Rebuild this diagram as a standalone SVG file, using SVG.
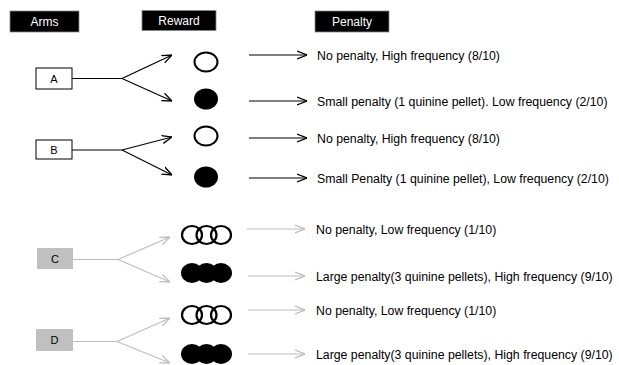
<svg xmlns="http://www.w3.org/2000/svg" width="619" height="365" viewBox="0 0 619 365">
<defs>
<marker id="ab" viewBox="0 0 10 10" refX="10" refY="5" markerWidth="10" markerHeight="10" markerUnits="userSpaceOnUse" orient="auto">
<path d="M0,1 L10,5 L0,9" fill="none" stroke="#000" stroke-width="1.3"/>
</marker>
<marker id="ag" viewBox="0 0 10 10" refX="10" refY="5" markerWidth="10" markerHeight="10" markerUnits="userSpaceOnUse" orient="auto">
<path d="M0,1 L10,5 L0,9" fill="none" stroke="#bdbdbd" stroke-width="1.3"/>
</marker>
</defs>
<style>
.hdr{fill:#000;stroke:#888;stroke-width:0.8}
.ht{font-family:"Liberation Sans",Arial,sans-serif;font-size:12px;fill:#fff;text-anchor:middle}
.box{fill:#fff;stroke:#000;stroke-width:1}
.gbox{fill:#c0c0c0;stroke:none}
.lt{font-family:"Liberation Sans",Arial,sans-serif;font-size:11px;fill:#000;text-anchor:middle}
.pt{font-family:"Liberation Sans",Arial,sans-serif;font-size:12.3px;fill:#000}
.bl{stroke:#000;stroke-width:1.2;fill:none}
.gl{stroke:#bdbdbd;stroke-width:1.2;fill:none}
.oc{fill:#fff;stroke:#000;stroke-width:2}
.or{fill:none;stroke:#000;stroke-width:2.2}
.fc{fill:#000;stroke:none}
</style>
<rect width="619" height="365" fill="#fff"/>
<g id="headers">
<rect class="hdr" x="10" y="11" width="69" height="21"/><text class="ht" x="44.5" y="26">Arms</text>
<rect class="hdr" x="142" y="10.5" width="74" height="20"/><text class="ht" x="179" y="25">Reward</text>
<rect class="hdr" x="315" y="11" width="74" height="21"/><text class="ht" x="352" y="26">Penalty</text>
</g>
<g id="arm-A"><rect class="box" x="36" y="68" width="36" height="21"/><text class="lt" x="54" y="82.5">A</text></g>
<g id="arm-B"><rect class="box" x="36" y="140" width="36" height="19"/><text class="lt" x="54" y="153.5">B</text></g>
<g id="arm-C"><rect class="gbox" x="37" y="248" width="36" height="21"/><text class="lt" x="55" y="262.5">C</text></g>
<g id="arm-D"><rect class="gbox" x="36" y="329" width="37" height="22"/><text class="lt" x="54.5" y="344">D</text></g>
<g id="reward-A1"><ellipse class="oc" cx="206" cy="62" rx="11.5" ry="9.5"/></g>
<g id="reward-A2"><ellipse class="fc" cx="206" cy="99" rx="12" ry="10.5"/></g>
<g id="reward-B1"><ellipse class="oc" cx="206" cy="136" rx="11.5" ry="9.5"/></g>
<g id="reward-B2"><ellipse class="fc" cx="206" cy="177" rx="12" ry="10.5"/></g>
<g id="reward-C1"><ellipse class="or" cx="192" cy="235" rx="10" ry="9"/><ellipse class="or" cx="206.5" cy="235" rx="10" ry="9"/><ellipse class="or" cx="221" cy="235" rx="10" ry="9"/></g>
<g id="reward-C2"><ellipse class="fc" cx="192" cy="273" rx="11" ry="10"/><ellipse class="fc" cx="206.5" cy="273" rx="11" ry="10"/><ellipse class="fc" cx="221" cy="273" rx="11" ry="10"/></g>
<g id="reward-D1"><ellipse class="or" cx="192" cy="315" rx="10" ry="9"/><ellipse class="or" cx="206.5" cy="315" rx="10" ry="9"/><ellipse class="or" cx="221" cy="315" rx="10" ry="9"/></g>
<g id="reward-D2"><ellipse class="fc" cx="192" cy="354" rx="11" ry="10"/><ellipse class="fc" cx="206.5" cy="354" rx="11" ry="10"/><ellipse class="fc" cx="221" cy="354" rx="11" ry="10"/></g>
<g id="penalties">
<text class="pt" x="317" y="59.5">No penalty, High frequency (8/10)</text>
<text class="pt" x="317" y="105.5">Small penalty (1 quinine pellet). Low frequency (2/10)</text>
<text class="pt" x="317" y="142.5">No penalty, High frequency (8/10)</text>
<text class="pt" x="317" y="182.5">Small Penalty (1 quinine pellet), Low frequency (2/10)</text>
<text class="pt" x="316" y="233.5">No penalty, Low frequency (1/10)</text>
<text class="pt" x="316" y="280.5">Large penalty(3 quinine pellets), High frequency (9/10)</text>
<text class="pt" x="316" y="314.5">No penalty, Low frequency (1/10)</text>
<text class="pt" x="316" y="358.5">Large penalty(3 quinine pellets), High frequency (9/10)</text>
</g>
<g id="connectors">
<path class="bl" d="M72,78.5 H122"/>
<path class="bl" d="M122,78.5 L172,55" marker-end="url(#ab)"/>
<path class="bl" d="M122,78.5 L172,101" marker-end="url(#ab)"/>
<path class="bl" d="M72,150 H122"/>
<path class="bl" d="M122,150 L172,137" marker-end="url(#ab)"/>
<path class="bl" d="M122,150 L172,175" marker-end="url(#ab)"/>
<path class="gl" d="M73,259.5 H118"/>
<path class="gl" d="M118,259.5 L170,237" marker-end="url(#ag)"/>
<path class="gl" d="M118,259.5 L170,282" marker-end="url(#ag)"/>
<path class="gl" d="M73,341.5 H117"/>
<path class="gl" d="M117,341.5 L170,318" marker-end="url(#ag)"/>
<path class="gl" d="M117,341.5 L170,363" marker-end="url(#ag)"/>
<path class="bl" d="M249,55 H307" marker-end="url(#ab)"/>
<path class="bl" d="M249,101 H307" marker-end="url(#ab)"/>
<path class="bl" d="M249,138 H307" marker-end="url(#ab)"/>
<path class="bl" d="M249,178 H307" marker-end="url(#ab)"/>
<path class="gl" d="M247,229 H305" marker-end="url(#ag)"/>
<path class="gl" d="M248,276 H305" marker-end="url(#ag)"/>
<path class="gl" d="M248,310 H305" marker-end="url(#ag)"/>
<path class="gl" d="M248,354 H305" marker-end="url(#ag)"/>
</g>
</svg>
